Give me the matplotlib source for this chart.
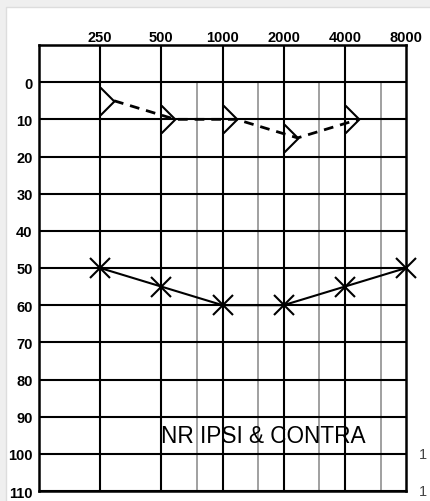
import numpy as np
import matplotlib
matplotlib.use('Agg')
import matplotlib.pyplot as plt
from matplotlib.path import Path
from matplotlib.patches import Rectangle
import matplotlib.transforms as mtransforms

plt.rcParams['font.family'] = ['Liberation Sans', 'DejaVu Sans']

# audiogram data
freq_labels = [250, 500, 1000, 2000, 4000, 8000]
half_octaves = [750, 1500, 3000, 6000]
db_levels = list(range(-10, 111, 10))
db_labels = list(range(0, 111, 10))

air_freqs = [250, 500, 1000, 2000, 4000, 8000]
air_db = [50, 55, 60, 60, 55, 50]

bone_freqs = [250, 500, 1000, 2000, 4000]
bone_db = [5, 10, 10, 15, 10]

W, H = 431, 502
fig = plt.figure(figsize=(W / 100, H / 100), dpi=100, facecolor='#efefef')
bg = Rectangle((6 / W, -0.01), 1, 1.01 - 8 / H, transform=fig.transFigure,
               facecolor='white', edgecolor='#dddddd', lw=1, zorder=-10)
fig.patches.append(bg)

ax = fig.add_axes([39 / W, 1 - 492 / H, 367 / W, 446 / H], zorder=1)
ax.set_xscale('log', base=2)
ax.set_xlim(125, 8000)
ax.set_ylim(110, -10)
ax.set_facecolor('white')

# grid
for d in db_levels:
    ax.axhline(d, color='black', lw=1.5, zorder=1)
for f in freq_labels[:-1]:
    ax.axvline(f, color='black', lw=1.5, zorder=1)
for f in half_octaves:
    ax.plot([f, f], [0, 110], color='#999999', lw=1.3, zorder=0.8)
for s in ax.spines.values():
    s.set_linewidth(1.8)

ax.xaxis.tick_top()
ax.set_xticks(freq_labels)
ax.set_xticklabels([str(f) for f in freq_labels], fontsize=10.5, fontweight='bold')
ax.set_xticks([], minor=True)
ax.set_yticks(db_labels)
ax.set_yticklabels([str(d) for d in db_labels], fontsize=10.5, fontweight='bold')
ax.tick_params(axis='y', length=0, pad=4.5)
ax.tick_params(axis='x', length=0, pad=1)

# air conduction (X)
ax.plot(air_freqs, air_db, color='black', lw=1.5, marker='x', ms=14, mew=1.5,
        zorder=3, clip_on=False)

# bone conduction (open chevron)
chevron = Path([(0, 1), (1, 0), (0, -1)], [Path.MOVETO, Path.LINETO, Path.LINETO])
ms = 20
shift = mtransforms.offset_copy(ax.transData, fig=fig, x=ms / 2, y=0, units='points')
ax.plot(bone_freqs, bone_db, color='black', lw=2, linestyle=(0, (3.5, 2.5)),
        transform=shift, zorder=3)
ax.plot(bone_freqs, bone_db, linestyle='none', marker=chevron, ms=ms,
        mfc='none', mec='black', mew=1.5, zorder=3)

ax.text(500, 95, 'NR IPSI & CONTRA', fontsize=16.3, ha='left', va='center', zorder=4)

# right-side labels (only their first digit shows at the edge)
for d in [100, 110]:
    ax.annotate('1', xy=(8000, d), xycoords='data', xytext=(9, 0),
                textcoords='offset points', fontsize=10.5, color='#444444',
                va='center', ha='left', annotation_clip=False)

fig.savefig('out.png', dpi=100, facecolor=fig.get_facecolor())
